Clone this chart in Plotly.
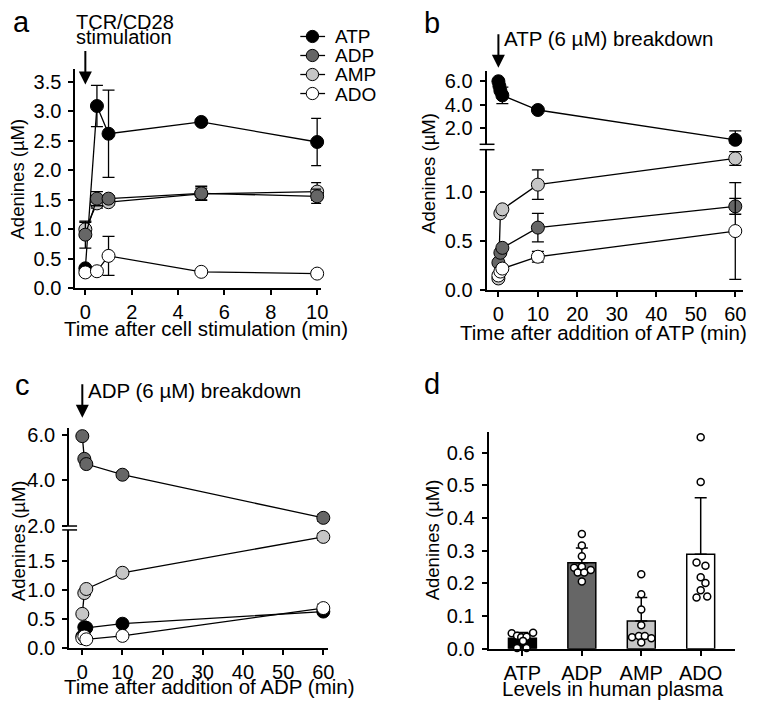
import plotly.graph_objects as go

W, H = 762, 702
FONT = "Liberation Sans, Arial, sans-serif"


def px(x):
    return x / W


def py(y):
    return 1 - y / H


# ---------------- data ----------------
SPECIES = ["ATP", "ADP", "AMP", "ADO"]
COLORS = {"ATP": "#000000", "ADP": "#666666", "AMP": "#c6c6c6", "ADO": "#ffffff"}

# Panel a: TCR/CD28 stimulation
TIME_A = [0, 0.5, 1, 5, 10]
ATP_A = [0.34, 3.09, 2.62, 2.82, 2.48]
ATP_A_ERR = [0.0, 0.35, 0.74, 0.04, 0.40]
ADP_A = [0.91, 1.52, 1.52, 1.61, 1.56]
ADP_A_ERR = [0.23, 0.12, 0.05, 0.12, 0.12]
AMP_A = [1.00, 1.44, 1.46, 1.60, 1.64]
AMP_A_ERR = [0.12, 0.08, 0.05, 0.10, 0.15]
ADO_A = [0.27, 0.29, 0.55, 0.28, 0.25]
ADO_A_ERR = [0.03, 0.02, 0.33, 0.03, 0.03]

# Panel b: ATP (6 uM) breakdown
TIME_B_ATP = [0, 0.25, 0.5, 1, 10, 60]
ATP_B = [6.0, 5.6, 5.2, 4.8, 3.56, 1.03]
ATP_B_ERR = [0.0, 0.0, 0.0, 0.7, 0.1, 0.75]
ATP_B_ERRMINUS = [0.0, 0.0, 0.0, 0.7, 0.1, 0.28]
TIME_B = [0, 0.5, 1, 10, 60]
ADP_B = [0.28, 0.38, 0.43, 0.635, 0.85]
ADP_B_ERR = [0.0, 0.0, 0.0, 0.145, 0.08]
AMP_B = [0.12, 0.78, 0.82, 1.07, 1.335]
AMP_B_ERR = [0.0, 0.0, 0.0, 0.15, 0.07]
ADO_B = [0.15, 0.19, 0.22, 0.34, 0.60]
ADO_B_ERR = [0.0, 0.0, 0.0, 0.055, 0.49]

# Panel c: ADP (6 uM) breakdown
TIME_C = [0, 0.5, 1, 10, 60]
ADP_C = [5.95, 4.95, 4.72, 4.25, 2.35]
ADP_C_ERR = [0.0, 0.0, 0.0, 0.12, 0.15]
AMP_C = [0.59, 0.95, 1.02, 1.30, 1.92]
AMP_C_ERR = [0.0, 0.0, 0.0, 0.03, 0.06]
ATP_C = [0.2, 0.36, 0.35, 0.42, 0.63]
ATP_C_ERR = [0.0, 0.0, 0.0, 0.02, 0.03]
ADO_C = [0.17, 0.2, 0.15, 0.21, 0.69]
ADO_C_ERR = [0.0, 0.0, 0.0, 0.03, 0.07]

# Panel d: levels in human plasma
PLASMA_MEAN = [0.032, 0.263, 0.085, 0.289]
PLASMA_SD = [0.018, 0.045, 0.072, 0.173]
DOTS_ATP = [0.047, 0.040, 0.035, 0.037, 0.049, 0.024, 0.002, 0.002]
JIT_ATP = [-0.18, -0.09, -0.02, 0.07, 0.18, 0.01, -0.09, 0.07]
DOTS_ADP = [0.351, 0.316, 0.283, 0.248, 0.251, 0.241, 0.233, 0.233, 0.206]
JIT_ADP = [0.0, 0.0, 0.0, -0.13, 0.0, 0.15, -0.07, 0.04, 0.0]
DOTS_AMP = [0.228, 0.167, 0.120, 0.072, 0.035, 0.039, 0.039, 0.032, 0.019]
JIT_AMP = [0.0, 0.0, 0.0, 0.0, -0.155, -0.04, 0.06, 0.17, 0.0]
DOTS_ADO = [0.647, 0.510, 0.264, 0.254, 0.219, 0.201, 0.179, 0.157, 0.160]
JIT_ADO = [0.0, 0.0, -0.07, 0.08, 0.0, 0.08, 0.0, -0.07, 0.11]

# ---------------- figure ----------------
fig = go.Figure()


def series(x, y, err, name, xa, ya, errminus=None):
    ed = dict(type="data", array=err, color="black", thickness=1.3, width=6, visible=True)
    if errminus is not None:
        ed.update(symmetric=False, arrayminus=errminus)
    fig.add_trace(go.Scatter(
        x=x, y=y, mode="lines+markers", name=name, xaxis=xa, yaxis=ya,
        line=dict(color="black", width=1.3),
        marker=dict(size=13, color=COLORS[name], line=dict(color="black", width=1)),
        error_y=ed, cliponaxis=False, showlegend=False))


# panel a
series(TIME_A, ATP_A, ATP_A_ERR, "ATP", "x", "y")
series(TIME_A, AMP_A, AMP_A_ERR, "AMP", "x", "y")
series(TIME_A, ADP_A, ADP_A_ERR, "ADP", "x", "y")
series(TIME_A, ADO_A, ADO_A_ERR, "ADO", "x", "y")

# panel b (upper segment y3, lower segment y2)
series(TIME_B_ATP, ATP_B, ATP_B_ERR, "ATP", "x2", "y3", ATP_B_ERRMINUS)
series(TIME_B, AMP_B, AMP_B_ERR, "AMP", "x2", "y2")
series(TIME_B, ADP_B, ADP_B_ERR, "ADP", "x2", "y2")
series(TIME_B, ADO_B, ADO_B_ERR, "ADO", "x2", "y2")

# panel c (upper y5, lower y4)
series(TIME_C, ADP_C, ADP_C_ERR, "ADP", "x3", "y5")
series(TIME_C, ATP_C, ATP_C_ERR, "ATP", "x3", "y4")
series(TIME_C, AMP_C, AMP_C_ERR, "AMP", "x3", "y4")
series(TIME_C, ADO_C, ADO_C_ERR, "ADO", "x3", "y4")

# panel d
fig.add_trace(go.Bar(
    x=list(range(len(SPECIES))), y=PLASMA_MEAN, width=0.47, xaxis="x4", yaxis="y6",
    marker=dict(color=[COLORS[s] for s in SPECIES], line=dict(color="black", width=1.5)),
    error_y=dict(type="data", symmetric=False, array=PLASMA_SD, arrayminus=[0] * 4,
                 color="black", thickness=1.5, width=6),
    showlegend=False))
for i, (vals, jit) in enumerate([(DOTS_ATP, JIT_ATP), (DOTS_ADP, JIT_ADP),
                                 (DOTS_AMP, JIT_AMP), (DOTS_ADO, JIT_ADO)]):
    fig.add_trace(go.Scatter(
        x=[i + j for j in jit], y=vals, mode="markers", xaxis="x4", yaxis="y6",
        marker=dict(size=7, color="white", line=dict(color="black", width=1.5)),
        cliponaxis=False, showlegend=False))

# ---------------- axes ----------------
TICKFONT = dict(family=FONT, size=20, color="black")
ax_common = dict(showline=True, linecolor="black", linewidth=2, ticks="outside",
                 ticklen=5, tickwidth=1.5, tickcolor="black", showgrid=False,
                 zeroline=False, tickfont=TICKFONT)
y_common = dict(ticklabelstandoff=3, **ax_common)

layout = dict(
    width=W, height=H, margin=dict(l=0, r=0, t=0, b=0),
    paper_bgcolor="white", plot_bgcolor="white", showlegend=False,
    font=dict(family=FONT, size=20, color="black"),
    # panel a
    xaxis=dict(domain=[px(68), px(316)], anchor="y", range=[-0.43, 10.17],
               tickvals=[0, 2, 4, 6, 8, 10], **ax_common),
    yaxis=dict(domain=[py(283), py(59)], anchor="x", range=[0, 3.72],
               tickvals=[0, 0.5, 1, 1.5, 2, 2.5, 3, 3.5], tickformat=".1f", **y_common),
    # panel b
    xaxis2=dict(domain=[px(483), px(742)], anchor="y2", range=[-3.0, 62.0],
                tickvals=[0, 10, 20, 30, 40, 50, 60], **ax_common),
    yaxis2=dict(domain=[py(285), py(141.5)], anchor="x2", range=[0, 1.424],
                tickvals=[0, 0.5, 1.0], tickformat=".1f", **y_common),
    yaxis3=dict(domain=[py(136), py(61.7)], anchor="x2", range=[0.65, 6.83],
                tickvals=[2, 4, 6], tickformat=".1f", **y_common),
    # panel c
    xaxis3=dict(domain=[px(61.7), px(322.7)], anchor="y4", range=[-3.28, 61.1],
                tickvals=[0, 10, 20, 30, 40, 50, 60], **ax_common),
    yaxis4=dict(domain=[py(650), py(529.5)], anchor="x3", range=[0, 2.04],
                tickvals=[0, 0.5, 1.0, 1.5], tickformat=".1f", **y_common),
    yaxis5=dict(domain=[py(525.5), py(425)], anchor="x3", range=[1.99, 6.33],
                tickvals=[2, 4, 6], tickformat=".1f", **y_common),
    # panel d
    xaxis4=dict(domain=[px(485), px(733.3)], anchor="y6", range=[-0.57, 3.57],
                tickvals=list(range(len(SPECIES))), ticktext=SPECIES, **ax_common),
    yaxis6=dict(domain=[py(650.7), py(429.3)], anchor="x4", range=[0, 0.664],
                tickvals=[0, 0.1, 0.2, 0.3, 0.4, 0.5, 0.6], tickformat=".1f", **y_common),
)
fig.update_layout(**layout)

# ---------------- annotations ----------------
ann = []


def text(s, x, y, size=20, xanchor="left", angle=0):
    ann.append(dict(text=s, x=px(x), y=py(y), xref="paper", yref="paper",
                    xanchor=xanchor, yanchor="middle", showarrow=False, textangle=angle,
                    borderpad=0, font=dict(family=FONT, size=size, color="black")))


# panel letters
text("a", 4, 11, size=29)
text("b", 419, 12, size=29)
text("c", 6, 382, size=29)
text("d", 419, 381, size=29)

# axis titles
text("Time after cell stimulation (min)", 200, 323.5, size=20.5, xanchor="center")
text("Time after addition of ATP (min)", 601, 328, size=20.5, xanchor="center")
text("Time after addition of ADP (min)", 203, 689, size=20.5, xanchor="center")
text("Levels in human plasma", 611, 691, size=20.5, xanchor="center")
text("Adenines (µM)", 10, 171, size=18.5, xanchor="center", angle=-90)
text("Adenines (µM)", 425, 166, size=18.5, xanchor="center", angle=-90)
text("Adenines (µM)", 10, 540, size=18.5, xanchor="center", angle=-90)
text("Adenines (µM)", 428, 540, size=18.5, xanchor="center", angle=-90)

# stimulus labels
text("TCR/CD28", 68, 11.6)
text("stimulation", 68, 26.8)
text("ATP (6 µM) breakdown", 500, 27.6, size=20.5)
text("ADP (6 µM) breakdown", 80, 387.7, size=20.5)

# arrows at t = 0
for xr, ytip, ylen in [("x", 75, 35), ("x2", 58, 35), ("x3", 415, 35)]:
    ann.append(dict(x=0, xref=xr, y=py(ytip), yref="paper", text="", showarrow=True,
                    ax=0, ay=-ylen, arrowhead=2, arrowsize=1.3, arrowwidth=2,
                    arrowcolor="black"))

# legend of panel a (key drawn as shapes)
shapes = []
for i, s in enumerate(SPECIES):
    yc = 26 + 19.4 * i
    shapes.append(dict(type="line", xref="paper", yref="paper", x0=px(295), x1=px(320),
                       y0=py(yc), y1=py(yc), line=dict(color="black", width=1.3)))
    shapes.append(dict(type="circle", xref="paper", yref="paper", x0=px(301), x1=px(313.5),
                       y0=py(yc + 6.25), y1=py(yc - 6.25), fillcolor=COLORS[s],
                       line=dict(color="black", width=1)))
    text(s, 329, yc + 0.5, size=19)

# axis break marks
for xaxis_px, y_up, y_lo in [(483, 136, 141.5), (61.7, 525.5, 529.5)]:
    for yy in (y_up, y_lo):
        shapes.append(dict(type="line", xref="paper", yref="paper",
                           x0=px(xaxis_px - 7), x1=px(xaxis_px + 8),
                           y0=py(yy), y1=py(yy), line=dict(color="black", width=1.5)))

fig.update_layout(annotations=ann, shapes=shapes)
fig.write_html("out.html")
